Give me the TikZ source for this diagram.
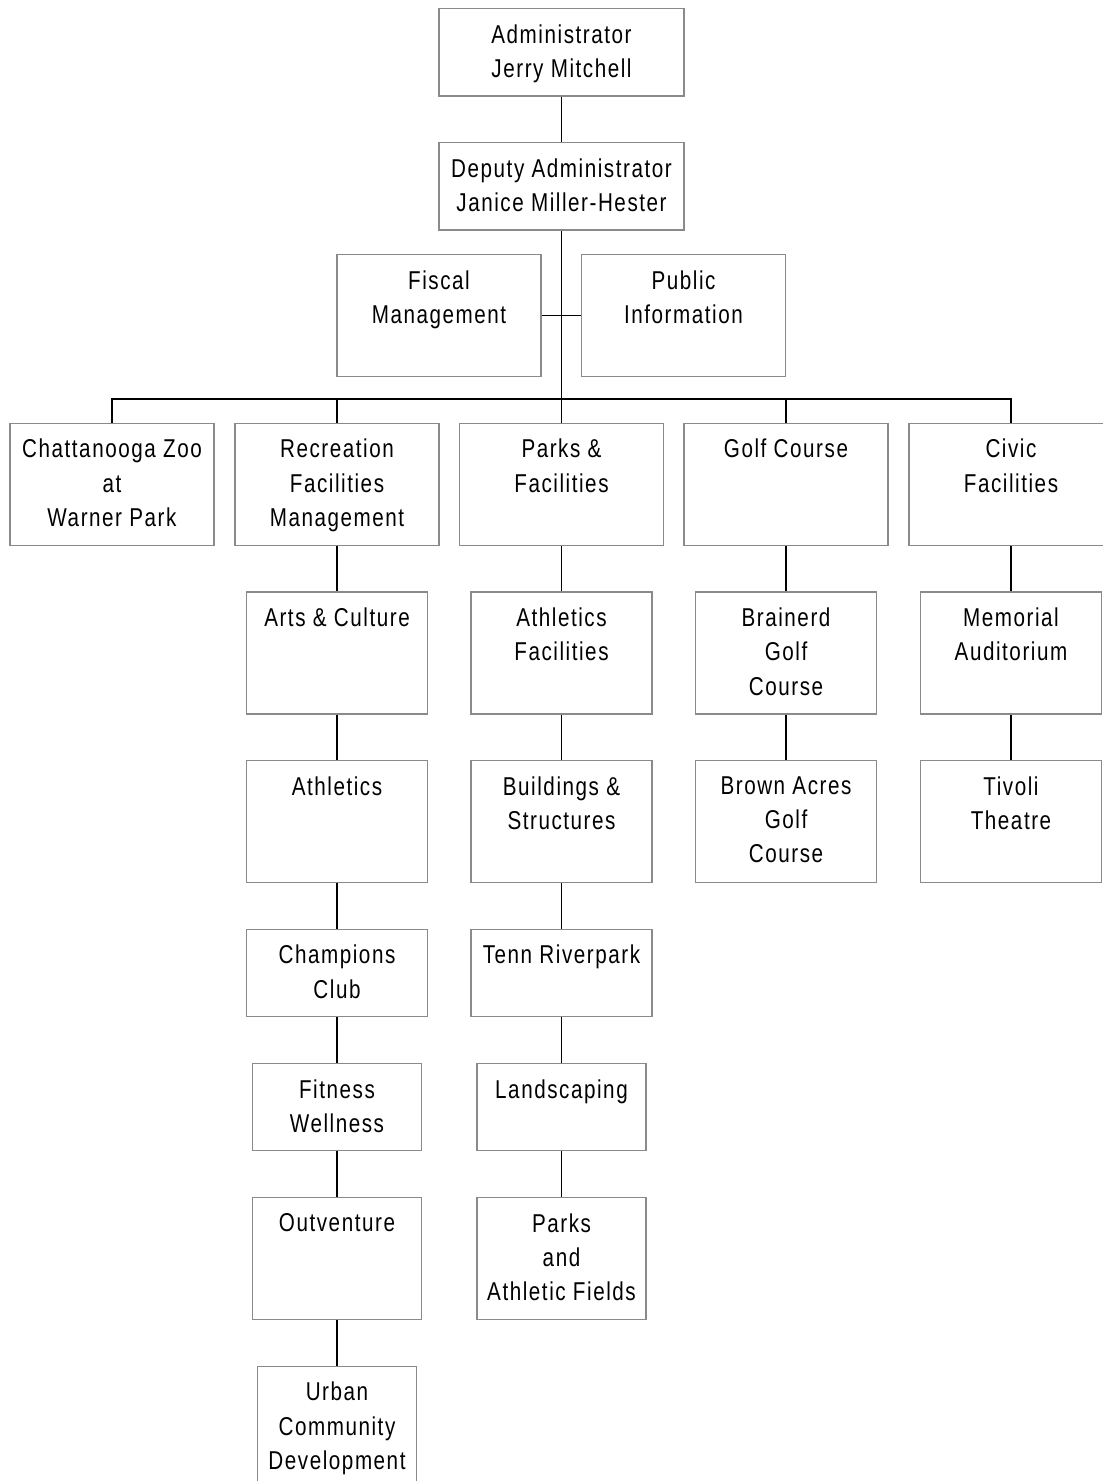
\documentclass[tikz,border=0pt]{standalone}
\usepackage{fontspec}
\newfontfamily\orgfont{Liberation Sans}[FakeStretch=0.8,LetterSpace=6]
\definecolor{boxgray}{HTML}{8A8A8A}

\begin{document}
\begin{tikzpicture}[x=0.5pt, y=-0.5pt,
  unit/.style={draw=boxgray, line width=0.65pt, anchor=north, inner sep=0pt},
  dim/.style 2 args={minimum width=#1*0.5pt, minimum height=#2*0.5pt},
  txt/.style={anchor=north, yshift=-8pt, inner sep=0pt, align=center, font=\orgfont\fontsize{12.9}{17.2}\selectfont},
  link/.style={line width=0.7pt, black}]
  \useasboundingbox (0,0) rectangle (1102,1481);
  \node[unit, dim={245}{87.5}, label={[txt]north:{Administrator\\Jerry Mitchell}}] (admin) at (561.5,8) {};
  \node[unit, dim={245}{87.5}, label={[txt]north:{Deputy Administrator\\Janice Miller-Hester}}] (deputy) at (561.5,142) {};
  \node[unit, dim={204}{122}, label={[txt]north:{Fiscal\\Management}}] (fiscal) at (439,254) {};
  \node[unit, dim={204}{122}, label={[txt]north:{Public\\Information}}] (public) at (683.5,254) {};
  \node[unit, dim={204}{122}, label={[txt]north:{Chattanooga Zoo\\at\\Warner Park}}] (zoo) at (112,422.7) {};
  \node[unit, dim={204}{122}, label={[txt]north:{Recreation\\Facilities\\Management}}] (rec) at (337,422.7) {};
  \node[unit, dim={204}{122}, label={[txt]north:{Parks \&\\Facilities}}] (parks) at (561.5,422.7) {};
  \node[unit, dim={204}{122}, label={[txt]north:{Golf Course}}] (golf) at (786,422.7) {};
  \node[unit, dim={204}{122}, label={[txt]north:{Civic\\Facilities}}] (civic) at (1011,422.7) {};
  \node[unit, dim={181}{122}, label={[txt]north:{Arts \& Culture}}] (arts) at (337,591.3) {};
  \node[unit, dim={181}{122}, label={[txt]north:{Athletics}}] (athletics) at (337,760) {};
  \node[unit, dim={181}{87}, label={[txt]north:{Champions\\Club}}] (champions) at (337,928.7) {};
  \node[unit, dim={169}{87}, label={[txt]north:{Fitness\\Wellness}}] (fitness) at (337,1063) {};
  \node[unit, dim={169}{122}, label={[txt]north:{Outventure}}] (outventure) at (337,1197) {};
  \node[unit, dim={159}{122}, label={[txt]north:{Urban\\Community\\Development}}] (urban) at (337,1365.7) {};
  \node[unit, dim={181}{122}, label={[txt]north:{Athletics\\Facilities}}] (athfac) at (561.5,591.3) {};
  \node[unit, dim={181}{122}, label={[txt]north:{Buildings \&\\Structures}}] (buildings) at (561.5,760) {};
  \node[unit, dim={181}{87}, label={[txt]north:{Tenn Riverpark}}] (tenn) at (561.5,928.7) {};
  \node[unit, dim={169}{87}, label={[txt]north:{Landscaping}}] (landscaping) at (561.5,1063) {};
  \node[unit, dim={169}{122}, label={[txt]north:{Parks\\and\\Athletic Fields}}] (fields) at (561.5,1197) {};
  \node[unit, dim={181}{122}, label={[txt]north:{Brainerd\\Golf\\Course}}] (brainerd) at (786,591.3) {};
  \node[unit, dim={181}{122}, label={[txt]north:{Brown Acres\\Golf\\Course}}] (brown) at (786,760) {};
  \node[unit, dim={181}{122}, label={[txt]north:{Memorial\\Auditorium}}] (memorial) at (1011,591.3) {};
  \node[unit, dim={181}{122}, label={[txt]north:{Tivoli\\Theatre}}] (tivoli) at (1011,760) {};
  \coordinate (bar) at (561.5,399);
  \draw[link] (admin.south) -- (deputy.north); \draw[link] (deputy.south) -- (parks.north);
  \draw[link] (fiscal.east) -- (public.west);
  \draw[link] (zoo.north) |- (bar) -| (civic.north);
  \draw[link] (rec.north) -- (rec.north |- bar); \draw[link] (golf.north) -- (golf.north |- bar);
  \draw[link] (rec.south) -- (arts.north); \draw[link] (arts.south) -- (athletics.north);
  \draw[link] (athletics.south) -- (champions.north); \draw[link] (champions.south) -- (fitness.north);
  \draw[link] (fitness.south) -- (outventure.north); \draw[link] (outventure.south) -- (urban.north);
  \draw[link] (parks.south) -- (athfac.north); \draw[link] (athfac.south) -- (buildings.north);
  \draw[link] (buildings.south) -- (tenn.north); \draw[link] (tenn.south) -- (landscaping.north);
  \draw[link] (landscaping.south) -- (fields.north);
  \draw[link] (golf.south) -- (brainerd.north); \draw[link] (brainerd.south) -- (brown.north);
  \draw[link] (civic.south) -- (memorial.north); \draw[link] (memorial.south) -- (tivoli.north);
\end{tikzpicture}
\end{document}
